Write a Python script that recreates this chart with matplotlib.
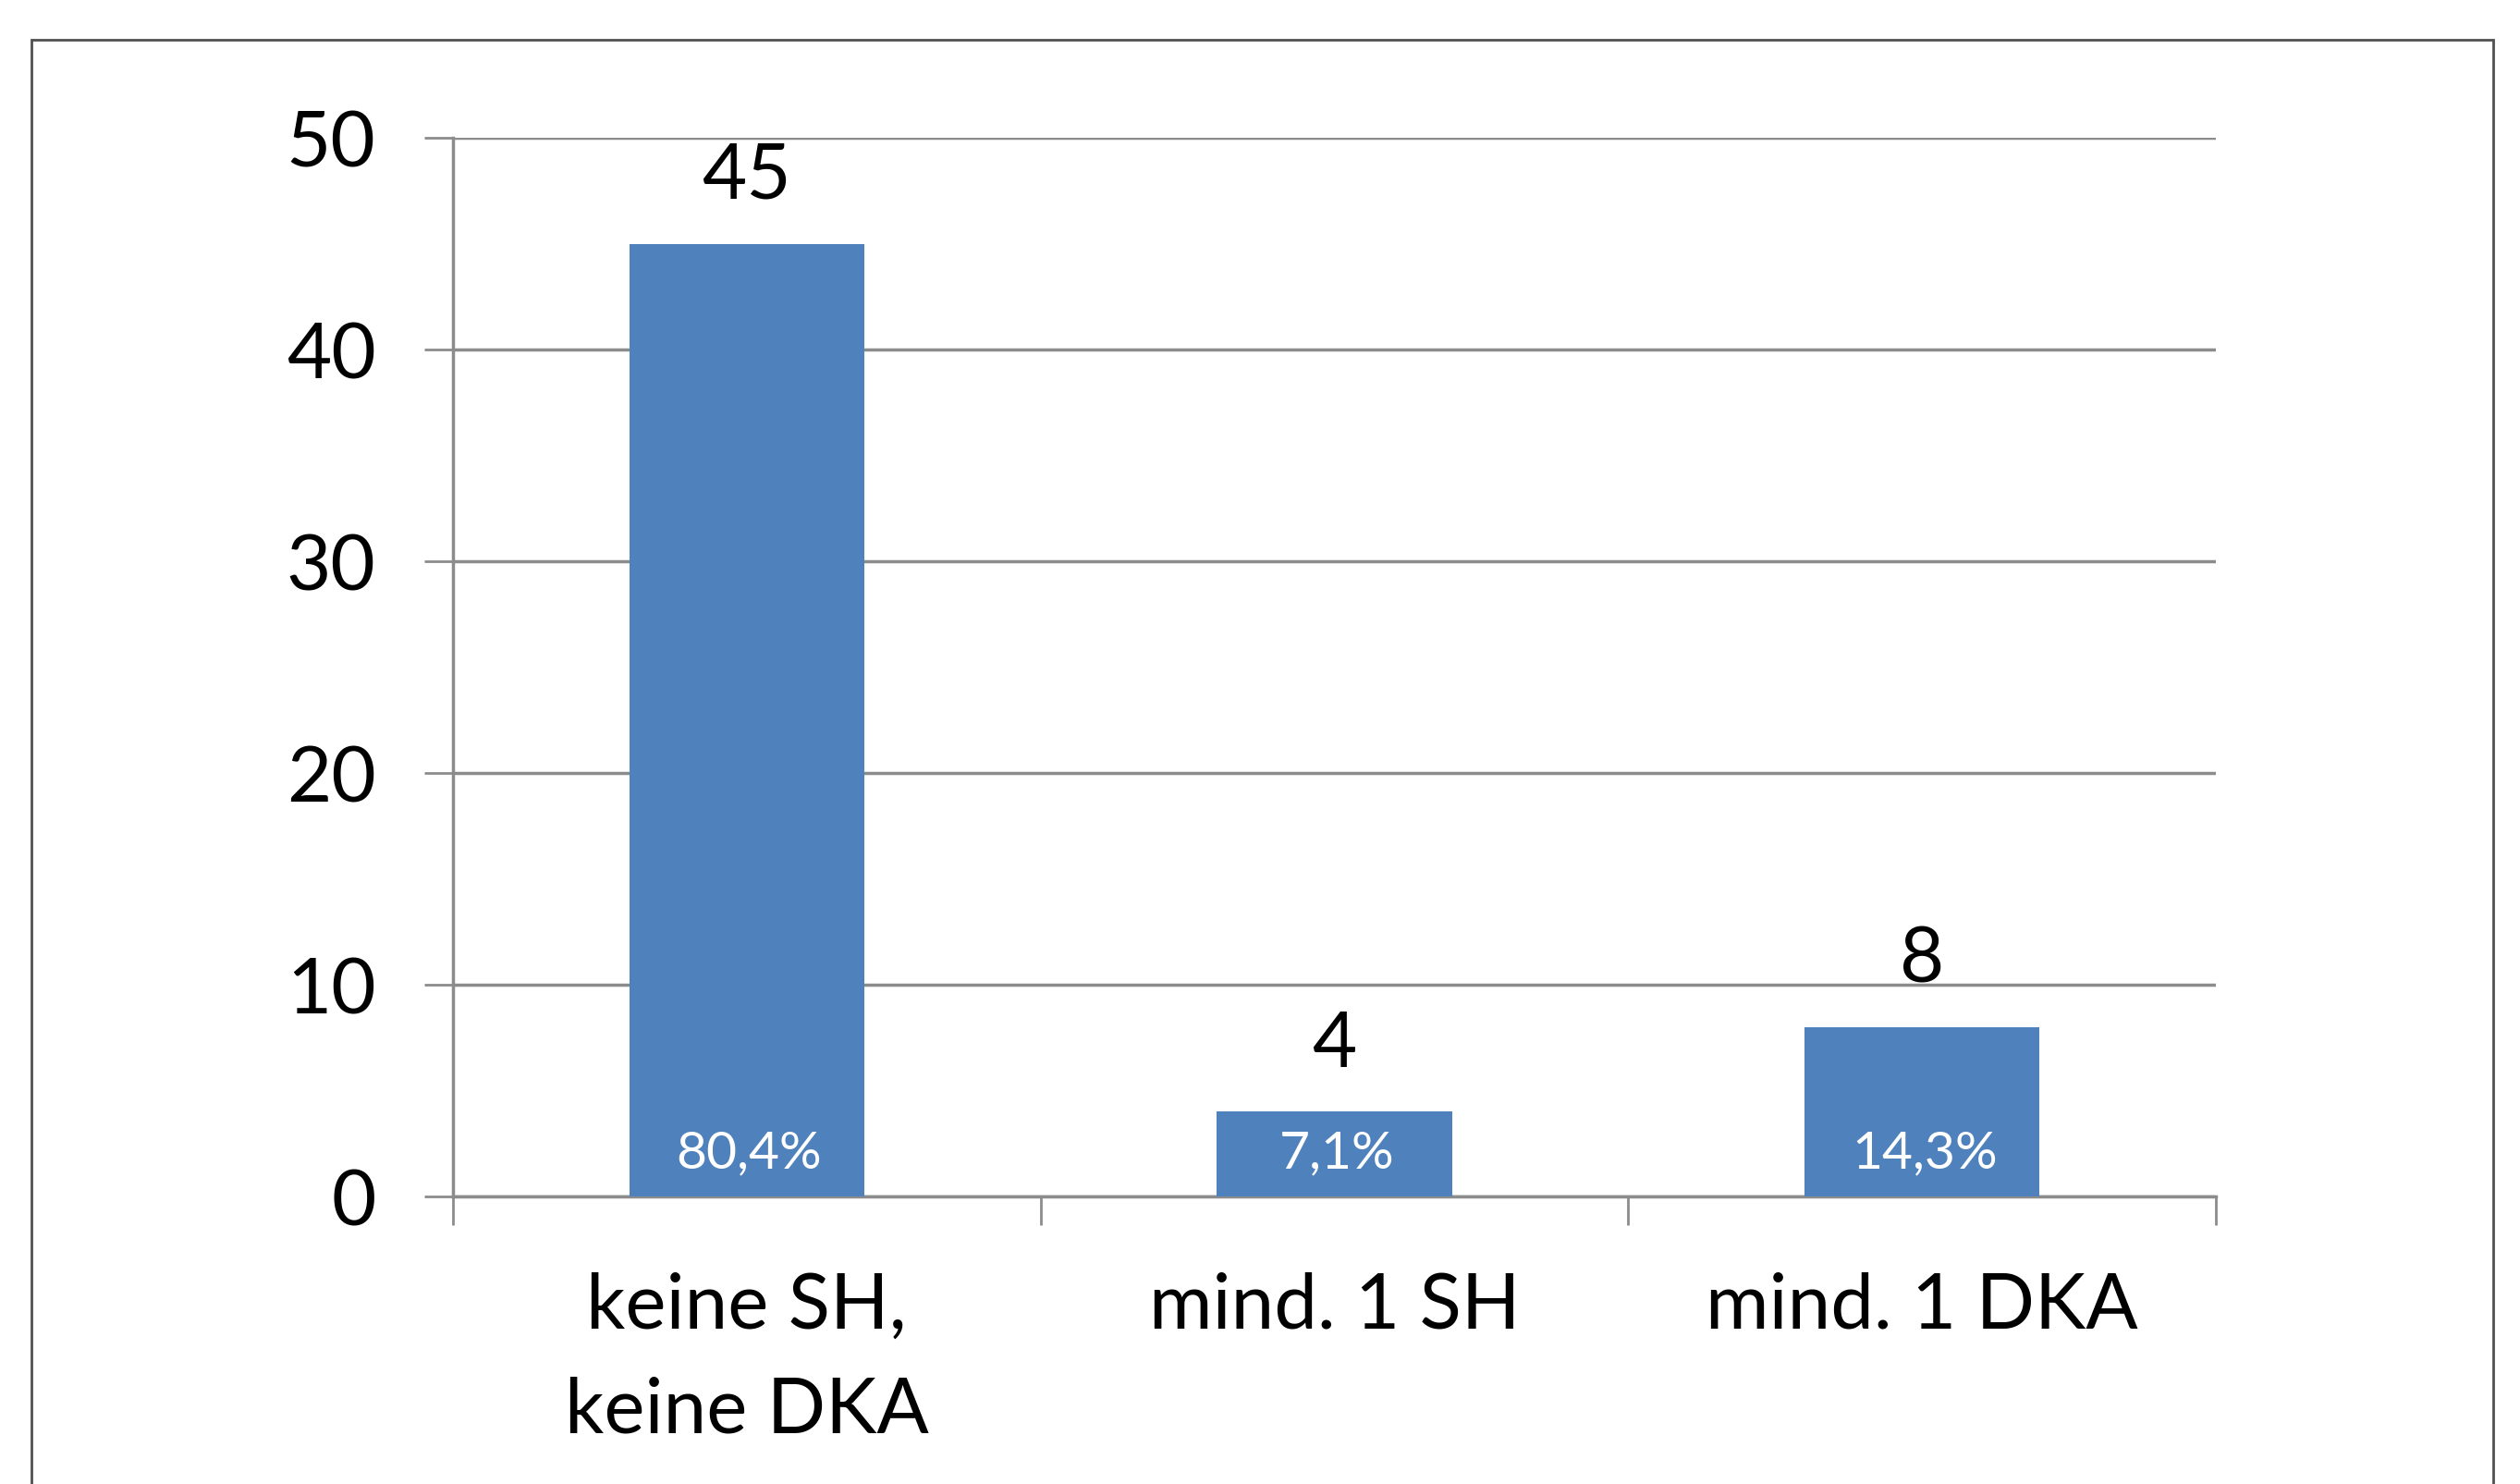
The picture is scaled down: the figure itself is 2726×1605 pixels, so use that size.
import matplotlib.pyplot as plt
from matplotlib.patches import Rectangle

categories = ["keine SH,\nkeine DKA", "mind. 1 SH", "mind. 1 DKA"]
counts = [45, 4, 8]
percents = ["80,4%", "7,1%", "14,3%"]

plt.rcParams['font.family'] = ['Lato', 'DejaVu Sans']

fig = plt.figure(figsize=(27.26, 16.06), dpi=100)
ax = fig.add_axes([0.1797, 0.1936, 0.8793 - 0.1797, 0.9066 - 0.1936])

grey = '#8c8c8c'
bars = ax.bar(range(len(counts)), counts, width=0.4, color='#4f81bd', zorder=3)

ax.set_xlim(-0.5, len(counts) - 0.5)
ax.set_ylim(0, 50)
ax.set_yticks(range(0, 51, 10))
ax.yaxis.grid(True, color=grey, linewidth=2.5, zorder=0)
ax.tick_params(axis='y', length=22, width=2, color=grey, labelsize=60, pad=38)

# category boundaries get the ticks, centres get the labels
ax.set_xticks([i - 0.5 for i in range(len(counts) + 1)])
ax.set_xticklabels([])
ax.set_xticks(range(len(counts)), minor=True)
ax.set_xticklabels(categories, minor=True, fontsize=60, linespacing=1.6)
ax.tick_params(axis='x', which='major', length=22, width=2, color=grey)
ax.tick_params(axis='x', which='minor', length=0, pad=58)

for side in ['top', 'right']:
    ax.spines[side].set_visible(False)
for side in ['left', 'bottom']:
    ax.spines[side].set_color(grey)
    ax.spines[side].set_linewidth(2.5)

for bar, n, p in zip(bars, counts, percents):
    x = bar.get_x() + bar.get_width() / 2
    ax.annotate(str(n), (x, n), xytext=(0, 25), textcoords='offset points',
                ha='center', va='bottom', fontsize=60)
    ax.annotate(p, (x, 0), xytext=(2, 34), textcoords='offset points',
                ha='center', va='center', fontsize=41, color='white', zorder=4)

# outer frame
fig.patches.append(Rectangle((0.0125, -0.05), 0.9894 - 0.0125, 0.9726 + 0.05,
                             transform=fig.transFigure, fill=False,
                             edgecolor='#505050', linewidth=2))

fig.savefig('out.png', dpi=100, facecolor='white')
